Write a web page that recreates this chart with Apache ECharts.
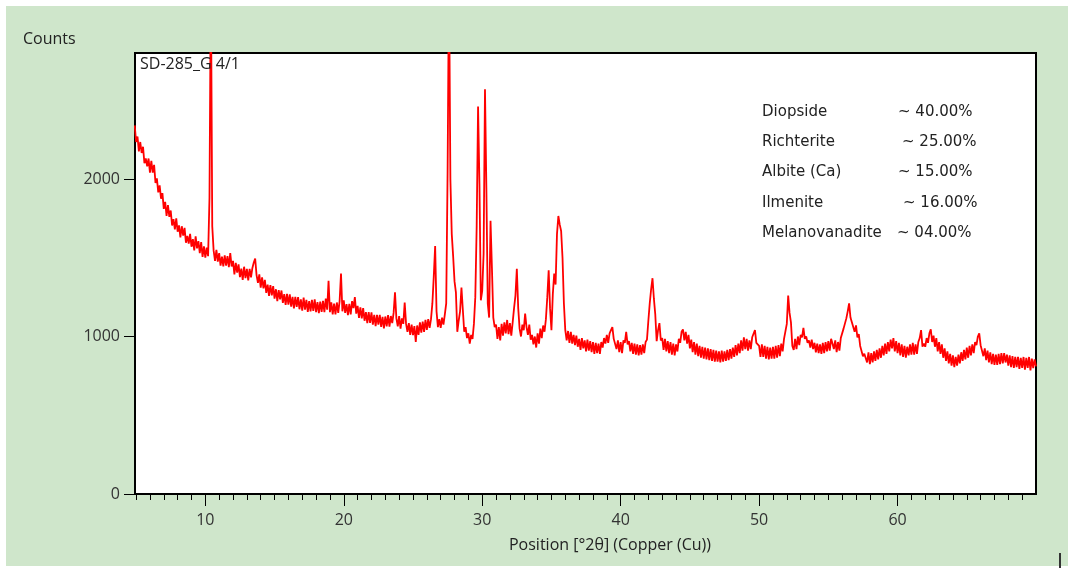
<!DOCTYPE html>
<html>
<head>
<meta charset="utf-8">
<title>SD-285_G 4/1</title>
<script src="https://cdn.jsdelivr.net/npm/echarts@6/dist/echarts.min.js"></script>
<style>
  body { margin: 0; background: #fff; width: 1068px; height: 568px; overflow: hidden; position: relative; }
  #chart { position: absolute; left: 6px; top: 6px; width: 1062px; height: 560px; background: #cfe6cb; }
  .cursor { position: absolute; left: 1059px; top: 553px; width: 2px; height: 15px; background: #333; }
</style>
</head>
<body>
<div id="chart"></div>
<div class="cursor"></div>
<script>
// scan grid: start angle and step in °2θ
const START = 4.9
const STEP = 0.1

// counts, one row per 1°
const seg05 = [2340, 2235, 2270, 2175, 2235, 2165, 2205, 2100, 2130, 2080,
  2130, 2040, 2115, 2040, 2090, 1975, 2005, 1915, 1960, 1875,
  1910, 1810, 1855, 1765, 1835, 1760, 1800, 1705, 1745, 1680,
  1750, 1665, 1705, 1630, 1700, 1640, 1690, 1595, 1638, 1590,
  1652, 1570, 1618, 1547, 1636, 1560, 1605, 1530, 1600, 1505,
  1573]
const seg10 = [1500, 1565, 1510, 1880, 3300, 1700, 1545, 1480, 1550, 1475,
  1530, 1450, 1507, 1445, 1515, 1450, 1510, 1440, 1530, 1445,
  1480, 1395, 1467, 1405, 1458, 1377, 1431, 1360, 1443, 1371,
  1430, 1356, 1430, 1375, 1435, 1470, 1495, 1390, 1340, 1395,
  1310, 1375, 1305, 1360, 1277, 1330, 1258, 1327, 1261, 1320,
  1240, 1300, 1225, 1295, 1236, 1292, 1213, 1269, 1200, 1271,
  1202, 1268, 1190, 1252, 1179, 1251, 1188, 1250, 1173, 1236,
  1164, 1247, 1170, 1233, 1156, 1225, 1159, 1233, 1162, 1236,
  1155, 1219, 1148, 1222, 1156, 1226, 1155, 1240, 1170, 1354,
  1155, 1217, 1140, 1208, 1141, 1216, 1150, 1225, 1400, 1160]
const seg20 = [1230, 1150, 1205, 1135, 1207, 1140, 1225, 1180, 1250, 1145,
  1195, 1118, 1185, 1115, 1180, 1100, 1155, 1085, 1155, 1087,
  1154, 1076, 1138, 1065, 1137, 1075, 1138, 1061, 1124, 1052,
  1127, 1064, 1136, 1063, 1130, 1085, 1150, 1280, 1115, 1065,
  1130, 1050, 1115, 1080, 1215, 1080, 1030, 1085, 1010, 1075,
  1008, 1066, 965, 1070, 1010, 1090, 1025, 1095, 1030, 1105,
  1042, 1110, 1055, 1110, 1210, 1380, 1575, 1160, 1060, 1110,
  1055, 1120, 1075, 1140, 1210, 2050, 3300, 2000, 1650, 1510,
  1350, 1280, 1030, 1100, 1160, 1310, 1170, 1030, 1060, 990,
  1020, 955, 1010, 985, 1080, 1250, 1700, 2460, 1970, 1230]
const seg30 = [1290, 1525, 2570, 1945, 1210, 1120, 1735, 1440, 1120, 1060,
  1075, 985, 1060, 975, 1080, 1005, 1090, 1020, 1105, 1015,
  1085, 1005, 1090, 1180, 1260, 1430, 1180, 1050, 1000, 1075,
  1040, 1145, 1060, 1010, 1075, 980, 1010, 950, 1000, 930,
  1020, 955, 1050, 990, 1070, 1030, 1110, 1250, 1420, 1180,
  1040, 1270, 1400, 1330, 1650, 1765, 1710, 1670, 1500, 1210,
  1040, 975, 1035, 960, 1030, 955, 1010, 945, 1005, 935,
  985, 915, 990, 925, 975, 905, 980, 910, 970, 900,
  965, 890, 960, 895, 955, 890, 965, 930, 990, 955,
  1010, 960, 1020, 1040, 1060, 985, 990, 920, 975, 900]
const seg40 = [965, 895, 975, 960, 1030, 950, 970, 905, 960, 890,
  955, 885, 950, 880, 945, 885, 950, 895, 965, 980,
  1100, 1210, 1300, 1370, 1240, 1140, 970, 1040, 1085, 975,
  990, 915, 985, 905, 970, 895, 965, 885, 955, 880,
  950, 905, 985, 960, 1030, 1045, 975, 1030, 955, 1010,
  925, 980, 900, 965, 885, 955, 875, 940, 865, 935,
  860, 930, 855, 925, 850, 920, 845, 915, 840, 910,
  840, 905, 835, 910, 840, 905, 845, 915, 850, 920,
  860, 930, 870, 945, 880, 955, 895, 975, 910, 995,
  920, 985, 910, 975, 920, 995, 985, 1040, 960, 955]
const seg50 = [940, 870, 950, 870, 940, 860, 935, 855, 930, 860,
  935, 860, 940, 865, 945, 875, 955, 905, 985, 990,
  1080, 1260, 1150, 1090, 940, 915, 985, 920, 1000, 945,
  1010, 995, 1055, 985, 1000, 960, 975, 930, 980, 920,
  960, 900, 955, 895, 950, 890, 960, 895, 965, 905,
  970, 910, 985, 955, 920, 975, 900, 965, 910, 990,
  1000, 1050, 1060, 1115, 1160, 1210, 1120, 1090, 1100, 1030,
  1070, 995, 1015, 940, 950, 875, 890, 880, 835, 900,
  825, 895, 835, 905, 845, 915, 855, 925, 865, 940,
  880, 955, 890, 965, 905, 980, 925, 990, 905, 970]
const seg60 = [895, 960, 880, 950, 870, 940, 865, 935, 880, 950,
  885, 960, 885, 950, 890, 965, 990, 1040, 935, 955,
  935, 990, 960, 1020, 1045, 965, 1005, 935, 990, 905,
  965, 890, 950, 865, 925, 845, 905, 830, 890, 815,
  880, 805, 870, 815, 885, 830, 900, 845, 915, 855,
  930, 865, 940, 880, 950, 895, 965, 945, 1000, 1020,
  945, 955, 875, 925, 850, 910, 835, 900, 825, 890,
  820, 885, 820, 890, 825, 895, 830, 895, 835, 885,
  815, 880, 805, 875, 800, 870, 805, 870, 795, 865,
  800, 870, 790, 865, 800, 870, 785, 860, 800, 855,
  810]

// axis ticks
const xMajorTicks = [10, 20, 30, 40, 50, 60]
const yTicks = [0, 1000, 2000]

// phase list shown in the plot
const phaseNames = ['Diopside', 'Richterite', 'Albite (Ca)', 'Ilmenite', 'Melanovanadite']
const phaseShares = ['~ 40.00%', '~ 25.00%', '~ 15.00%', '~ 16.00%', '~ 04.00%']

const counts = [].concat(seg05, seg10, seg20, seg30, seg40, seg50, seg60)
const points = counts.map(function (c, i) {
  return [Math.round((START + STEP * i) * 10) / 10, c]
})
const xMinorTicks = []
for (let t = 5; t < 70; t++) xMinorTicks.push(t)

const txt = '#222'
const uiFont = '"Open Sans", sans-serif'
const legendFont = '15px "DejaVu Sans", sans-serif'

// legend rows: name column and share column
const shareX = [892, 896, 892, 897, 891]
const rowY = [106, 136, 166, 197, 227]
const legend = []
phaseNames.forEach(function (n, i) {
  legend.push({ type: 'text', x: 756, y: rowY[i], z: 10, style: { text: n, font: legendFont, fill: txt, verticalAlign: 'middle' } })
  legend.push({ type: 'text', x: shareX[i], y: rowY[i], z: 10, style: { text: phaseShares[i], font: legendFont, fill: txt, verticalAlign: 'middle' } })
})

const chart = echarts.init(document.getElementById('chart'))
chart.setOption({
  animation: false,
  grid: {
    left: 129,
    top: 47,
    right: 32,
    bottom: 72,
    show: true,
    backgroundColor: '#fff',
    borderColor: '#000',
    borderWidth: 2
  },
  xAxis: [
    {
      type: 'value',
      min: 4.92,
      max: 70,
      position: 'bottom',
      axisLine: { show: true, lineStyle: { color: '#000', width: 2 } },
      axisTick: { show: true, length: 12, customValues: xMajorTicks, lineStyle: { color: '#000', width: 1 } },
      axisLabel: { customValues: xMajorTicks, margin: 18, color: '#333', fontFamily: uiFont, fontSize: 16 },
      splitLine: { show: false }
    },
    {
      type: 'value',
      min: 4.92,
      max: 70,
      position: 'bottom',
      axisLine: { show: false },
      axisTick: { show: true, length: 6, customValues: xMinorTicks, lineStyle: { color: '#000', width: 1 } },
      axisLabel: { show: false },
      splitLine: { show: false }
    }
  ],
  yAxis: {
    type: 'value',
    min: 0,
    max: 2800,
    axisLine: { show: true, lineStyle: { color: '#000', width: 2 } },
    axisTick: { show: true, length: 11, customValues: yTicks, lineStyle: { color: '#000', width: 1 } },
    axisLabel: {
      customValues: yTicks,
      margin: 15,
      color: '#333',
      fontFamily: uiFont,
      fontSize: 16,
      formatter: function (v) { return String(v) }
    },
    splitLine: { show: false }
  },
  graphic: [
    { type: 'text', x: 17, y: 33, style: { text: 'Counts', font: '16px ' + uiFont, fill: txt, verticalAlign: 'middle' } },
    { type: 'text', x: 134, y: 58, z: 10, style: { text: 'SD-285_G 4/1', font: '16px ' + uiFont, fill: txt, verticalAlign: 'middle' } },
    { type: 'text', x: 604, y: 539, style: { text: 'Position [°2θ] (Copper (Cu))', font: '16px ' + uiFont, fill: txt, align: 'center', verticalAlign: 'middle' } }
  ].concat(legend),
  series: [
    {
      type: 'line',
      xAxisIndex: 0,
      data: points,
      showSymbol: false,
      clip: true,
      lineStyle: { color: '#ff0000', width: 1.8 },
      z: 3
    }
  ]
})
</script>
</body>
</html>
